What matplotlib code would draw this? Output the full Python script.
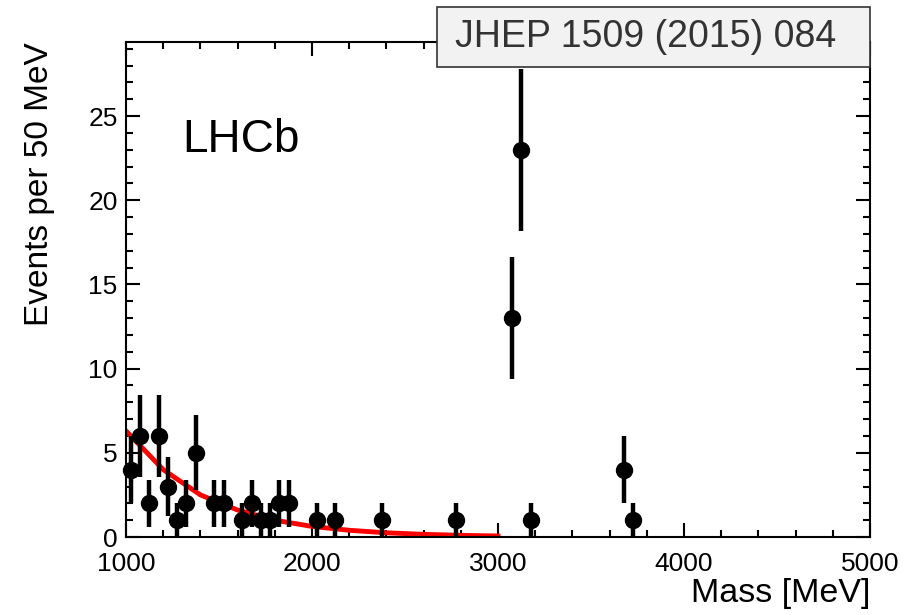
import numpy as np
import matplotlib.pyplot as plt
from matplotlib.patches import Rectangle
from matplotlib.ticker import MultipleLocator

plt.rcParams['font.family'] = ['Liberation Sans', 'DejaVu Sans']

# events per 50 MeV bin (bin centres in MeV)
mass_centers = [1025, 1075, 1125, 1175, 1225, 1275, 1325, 1375, 1475, 1525,
                1625, 1675, 1725, 1775, 1825, 1875, 2025, 2125, 2375, 2775,
                3075, 3125, 3175, 3675, 3725]
counts = [4, 6, 2, 6, 3, 1, 2, 5, 2, 2,
          1, 2, 1, 1, 2, 2, 1, 1, 1, 1,
          13, 23, 1, 4, 1]

# background fit, sampled along the mass axis
fit_mass = [1000, 1200, 1400, 1600, 1800, 2000, 2200, 2400, 2600, 2800, 3000]
fit_value = [6.3, 4.0, 2.5, 1.6, 1.0, 0.63, 0.40, 0.25, 0.16, 0.10, 0.06]

x_ticks = [1000, 2000, 3000, 4000, 5000]
y_ticks = [0, 5, 10, 15, 20, 25]

fig = plt.figure(figsize=(9.1, 6.15), dpi=100)
ax = fig.add_axes([0.1385, 0.1268, 0.8175, 0.8049])

x = np.array(mass_centers)
y = np.array(counts)
ax.plot(fit_mass, fit_value, color='red', lw=3.5, zorder=2)
ax.errorbar(x, y, yerr=np.sqrt(y), fmt='o', color='black', ms=11.5,
            elinewidth=3.2, capsize=0, clip_on=False, zorder=3)

ax.set_xlim(1000, 5000)
ax.set_ylim(0, 29.4)
ax.set_xticks(x_ticks)
ax.set_yticks(y_ticks)
ax.xaxis.set_minor_locator(MultipleLocator(200))
ax.yaxis.set_minor_locator(MultipleLocator(1))
ax.tick_params(which='both', direction='in', top=True, right=True,
               width=1.5, labelsize=19)
ax.tick_params(which='major', length=10)
ax.tick_params(which='minor', length=5)
ax.tick_params(axis='x', pad=11)
ax.tick_params(axis='y', pad=6)
for s in ax.spines.values():
    s.set_linewidth(1.5)

ax.set_xlabel('Mass [MeV]', fontsize=24.5, loc='right', labelpad=1)
ax.set_ylabel('Events per 50 MeV', fontsize=24, loc='top', labelpad=24)

ax.text(0.076, 0.778, 'LHCb', transform=ax.transAxes, fontsize=33,
        ha='left', va='baseline')

# reference tag in a grey box over the top edge
fig.add_artist(Rectangle((437 / 910, 1 - 67 / 615), 433 / 910, 60 / 615,
                         transform=fig.transFigure, facecolor='#f2f2f2',
                         edgecolor='#333333', linewidth=1.2, zorder=9))
fig.text(455 / 910, 1 - 37 / 615, 'JHEP 1509 (2015) 084', fontsize=27,
         color='#333333', ha='left', va='center', zorder=10)

fig.savefig('out.png', dpi=100)
